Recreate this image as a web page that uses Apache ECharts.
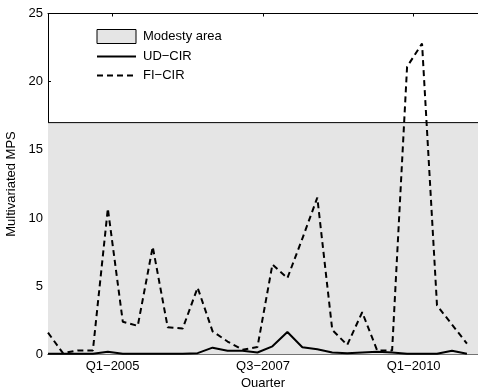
<!DOCTYPE html>
<html>
<head>
<meta charset="utf-8">
<script src="https://cdn.jsdelivr.net/npm/echarts@6/dist/echarts.min.js"></script>
<style>
  html, body { margin: 0; padding: 0; background: #fff; }
  #chart { width: 478px; height: 387px; }
</style>
</head>
<body>
<div id="chart"></div>
<script>
// quarterly values, one per quarter (index 0 = first quarter on the axis)
var udCir = [0.05, 0.05, 0.05, 0.05, 0.2, 0.05, 0.05, 0.05, 0.05, 0.05,
             0.1, 0.5, 0.27, 0.27, 0.15, 0.6, 1.65, 0.53, 0.38, 0.15,
             0.1, 0.15, 0.2, 0.15, 0.05, 0.05, 0.05, 0.28, 0.05];
var fiCir = [1.6, 0.1, 0.3, 0.3, 10.7, 2.4, 2.1, 7.9, 2.0, 1.9,
             4.9, 1.7, 0.95, 0.35, 0.55, 6.6, 5.6, 8.5, 11.5, 1.8,
             0.7, 3.1, 0.3, 0.3, 21.1, 22.8, 3.6, 2.2, 0.8];
var modestyLevel = 17;
var tickLabels = ["Q1\u22122005", "Q3\u22122007", "Q1\u22122010"];
var tickPositions = [4.32, 14.37, 24.44];
var xMax = 28.74;

function toPairs(arr) {
  return arr.map(function (v, i) { return [i, v]; });
}

var font = "Liberation Sans, Arial, sans-serif";
var myChart = echarts.init(document.getElementById("chart"));

// legend line items: hide the circle ECharts puts in the middle
var noSymbol = { color: "transparent", borderColor: "transparent", borderWidth: 0 };

var option = {
  animation: false,
  textStyle: { fontFamily: font, color: "#000" },
  grid: {
    left: 48, right: 0, top: 13.5, bottom: 32.5,
    containLabel: false,
    outerBoundsMode: "none"
  },
  legend: {
    orient: "vertical",
    left: 96,
    top: 29,
    itemWidth: 39,
    itemHeight: 14,
    itemGap: 6,
    padding: 0,
    textStyle: { fontFamily: font, fontSize: 13, color: "#000", padding: [0, 0, 0, 2] },
    data: [
      { name: "Modesty area", icon: "rect",
        itemStyle: { color: "#e5e5e5", borderColor: "#000", borderWidth: 1 } },
      { name: "UD\u2212CIR", itemStyle: noSymbol },
      { name: "FI\u2212CIR", itemStyle: noSymbol }
    ]
  },
  xAxis: [
    {
      type: "value",
      min: 0,
      max: xMax,
      name: "Quarter",
      nameLocation: "middle",
      nameGap: 22,
      nameTextStyle: { fontFamily: font, fontSize: 13, color: "#000" },
      axisLine: { show: true, onZero: false, lineStyle: { color: "#000", width: 1 } },
      axisTick: { show: true, inside: true, length: 3, customValues: tickPositions,
                  lineStyle: { color: "#000" } },
      axisLabel: {
        fontFamily: font, fontSize: 13, color: "#000", margin: 5,
        customValues: tickPositions,
        formatter: function (v) {
          var i = tickPositions.indexOf(v);
          return i >= 0 ? tickLabels[i] : "";
        }
      },
      splitLine: { show: false }
    },
    {
      type: "value",
      position: "top",
      min: 0,
      max: xMax,
      axisLine: { show: true, onZero: false, lineStyle: { color: "#000", width: 1 } },
      axisTick: { show: true, inside: true, length: 3, customValues: tickPositions,
                  lineStyle: { color: "#000" } },
      axisLabel: { show: false },
      splitLine: { show: false }
    }
  ],
  yAxis: {
    type: "value",
    min: 0,
    max: 25,
    interval: 5,
    name: "Multivariated MPS",
    nameLocation: "middle",
    nameGap: 23,
    nameTextStyle: { fontFamily: font, fontSize: 13, color: "#000" },
    axisLine: { show: true, lineStyle: { color: "#000", width: 1 } },
    axisTick: { show: true, inside: true, length: 3, lineStyle: { color: "#000" } },
    axisLabel: { fontFamily: font, fontSize: 13, color: "#000", margin: 5 },
    splitLine: { show: false }
  },
  series: [
    {
      name: "Modesty area",
      type: "line",
      symbol: "none",
      z: 1,
      data: [[0, modestyLevel], [xMax, modestyLevel]],
      lineStyle: { color: "#000", width: 1 },
      itemStyle: { color: "#e5e5e5" },
      areaStyle: { color: "#e5e5e5", opacity: 1 }
    },
    {
      name: "UD\u2212CIR",
      type: "line",
      symbol: "none",
      z: 3,
      data: toPairs(udCir),
      lineStyle: { color: "#000", width: 2 },
      itemStyle: { color: "#000" }
    },
    {
      name: "FI\u2212CIR",
      type: "line",
      symbol: "none",
      z: 2,
      data: toPairs(fiCir),
      lineStyle: { color: "#000", width: 2, type: [6, 4] },
      itemStyle: { color: "#000" }
    }
  ]
};

myChart.setOption(option);
</script>
</body>
</html>
